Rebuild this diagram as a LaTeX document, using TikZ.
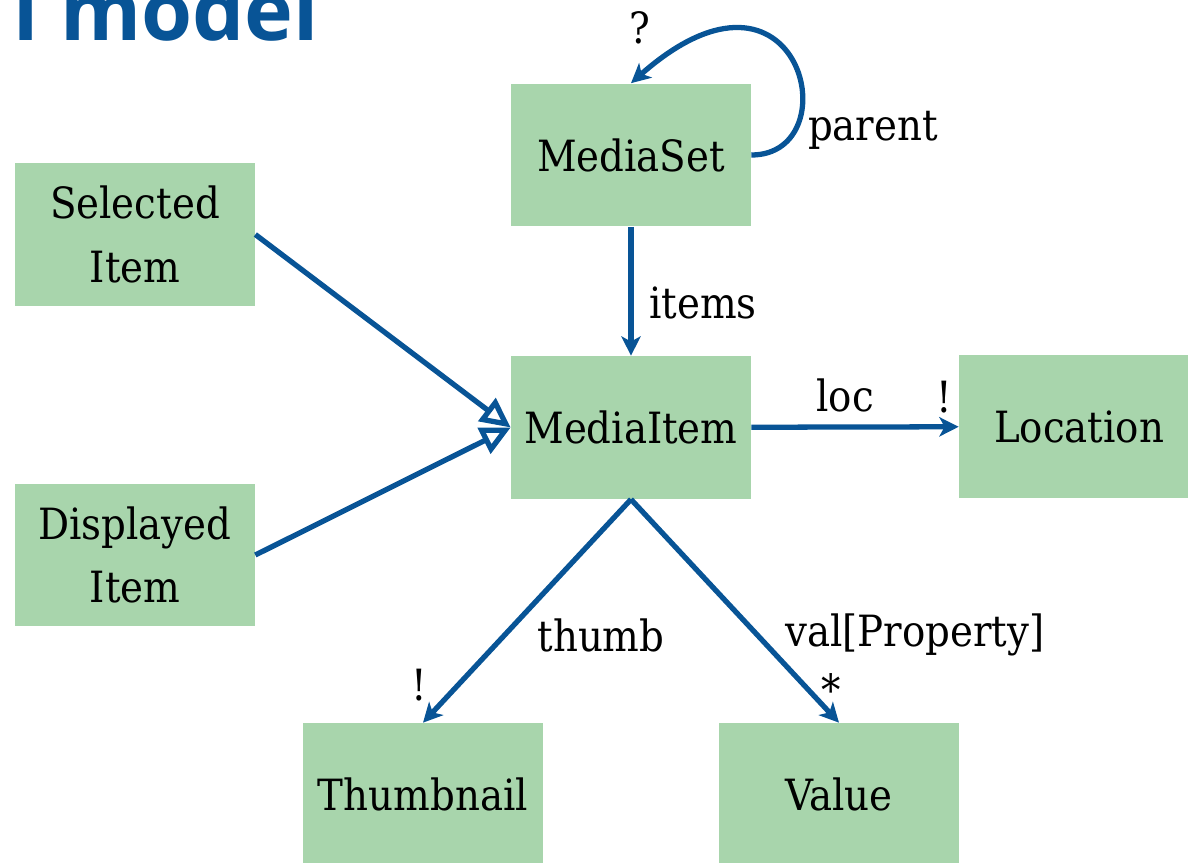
\documentclass[tikz,border=0pt]{standalone}
\usepackage{fontspec}
\setmainfont{DejaVu Serif Condensed}
\newfontfamily\titlefont{Open Sans}
\usetikzlibrary{arrows.meta,calc}
\definecolor{boxgreen}{RGB}{168,213,172}
\definecolor{linkblue}{RGB}{8,84,150}
\def\boxfont{\fontsize{24.5}{36}\selectfont}
\tikzset{
  entity/.style={fill=boxgreen, minimum width=4.8cm, minimum height=2.86cm, align=center, font=\boxfont},
  lbl/.style={inner sep=0pt, font=\boxfont},
  link/.style={draw=linkblue, line width=3pt, -{Stealth[length=11pt,width=11pt,inset=3pt]}},
  isa/.style={draw=linkblue, line width=3pt, -{Triangle[open,length=17pt,width=16pt]}}
}

\begin{document}
\begin{tikzpicture}[x=0.02cm, y=-0.02cm]
			%%%%% START %%%%%
			
			\useasboundingbox (0, 0) rectangle (1188, 863);
			\clip (0, 0) rectangle (1188, 863);
			
			\node[anchor=base east, inner sep=0pt, text=linkblue, font=\titlefont\bfseries\fontsize{47}{50}\selectfont] (title) at (319, 40) {l model};
			
			\node[entity] (mediaset) at (631, 155) {MediaSet};
			\node[entity] (selected) at (135, 234.5) {Selected\\Item};
			\node[entity] (displayed) at (135, 555) {Displayed\\Item};
			\node[entity] (mediaitem) at (631, 427.5) {MediaItem};
			\node[entity] (location) at (1079, 426.5) {Location};
			\node[entity] (thumbnail) at (423, 794.5) {Thumbnail};
			\node[entity] (value) at (839, 794.5) {Value};
			
			\draw[link] (mediaset.east) .. controls +(100, 0) and +(170, -150) .. (mediaset.north);
			\node[lbl] (parentlbl) at (873, 130) {parent};
			\node[lbl] (parentmul) at (640, 28) {?};
			
			\draw[link] (mediaset) -- (mediaitem);
			\node[lbl] (itemslbl) at (703, 303) {items};
			
			\draw[isa] (selected.east) -- (mediaitem.west);
			\draw[isa] (displayed.east) -- (mediaitem.west);
			
			\draw[link] (mediaitem) -- (location);
			\node[lbl] (loclbl) at (845, 395) {loc};
			\node[lbl] (locmul) at (944, 397) {!};
			
			\draw[link] (mediaitem.south) -- (thumbnail.north);
			\node[lbl] (thumblbl) at (601, 635) {thumb};
			\node[lbl] (thumbmul) at (419, 685) {!};
			
			\draw[link] (mediaitem.south) -- (value.north);
			\node[lbl] (vallbl) at (915, 635) {val[Property]};
			\node[lbl] (valmul) at (831, 690) {*};
			
			%%%%% END %%%%%
\end{tikzpicture}
\end{document}
